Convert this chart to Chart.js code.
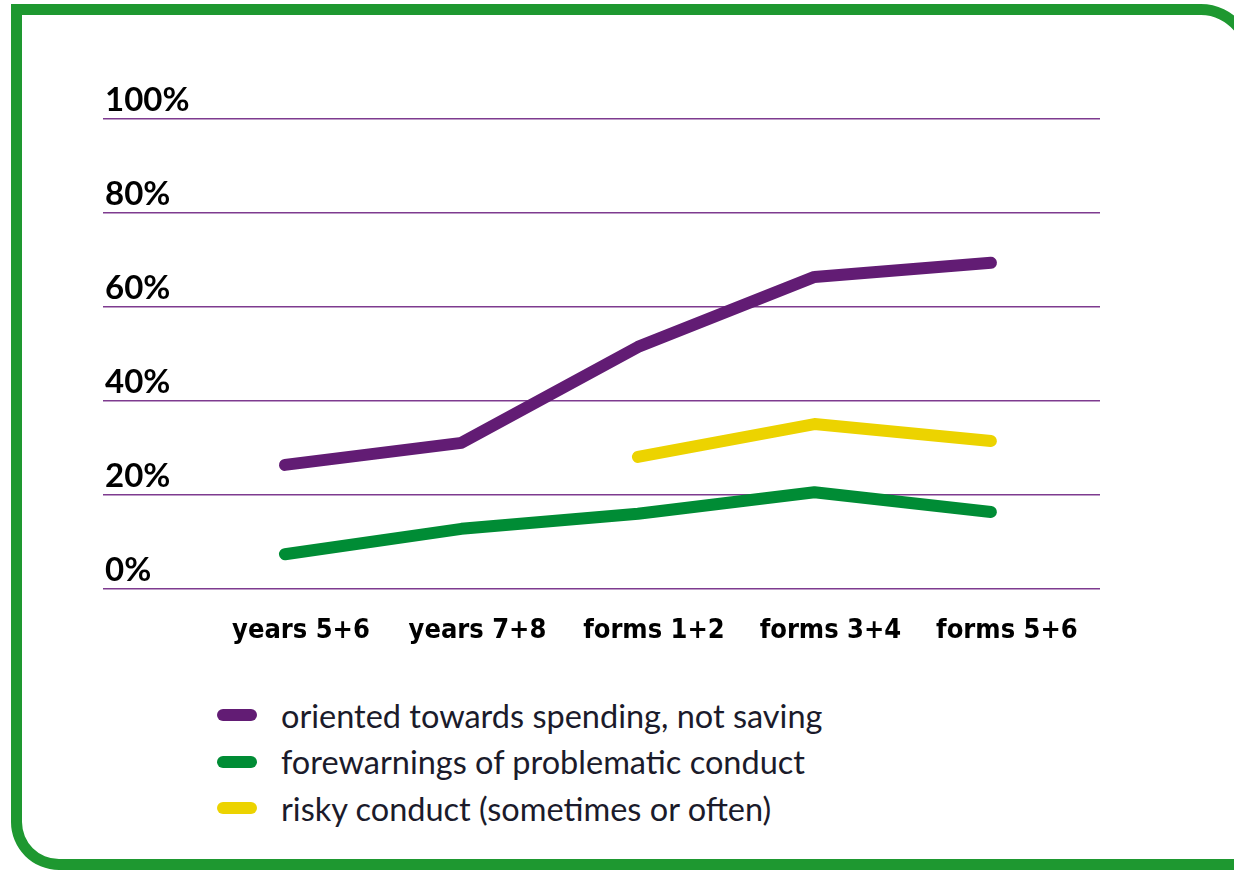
<!DOCTYPE html>
<html>
<head>
<meta charset="utf-8">
<script src="https://cdn.jsdelivr.net/npm/chart.js@4.4.1/dist/chart.umd.min.js"></script>
<style>
  html, body { margin: 0; padding: 0; background: #fff; overflow: hidden; }
  body { width: 1234px; height: 873px; position: relative; }
  .frame {
    position: absolute; left: 11px; top: 4px; width: 1250px; height: 866px;
    box-sizing: border-box; border: 11px solid #1e9830;
    border-top-right-radius: 60px 70px;
    border-bottom-left-radius: 48px;
  }
  #chart { position: absolute; left: 0; top: 0; }
  .legend { position: absolute; left: 217px; top: 692px; font-family: Lato, "Noto Sans", sans-serif; font-size: 32.5px; color: #1b1b2b; }
  .legend-item { display: flex; align-items: center; height: 46.5px; }
  .legend-swatch { width: 40px; height: 12px; border-radius: 6px; margin-right: 24px; }
</style>
</head>
<body>
<div class="frame"></div>
<canvas id="chart" width="1234" height="680"></canvas>
<div class="legend" id="legend"></div>
<script>
// Anteile je Altersgruppe, in Prozent
const categories = ['years 5+6', 'years 7+8', 'forms 1+2', 'forms 3+4', 'forms 5+6'];
const spending = [26.4, 31.1, 51.5, 66.4, 69.4];
const forewarnings = [7.4, 12.8, 16, 20.6, 16.4];
const risky = [null, null, 28.1, 35.1, 31.5];
const yTicks = [0, 20, 40, 60, 80, 100];

const seriesNames = [
  'oriented towards spending, not saving',
  'forewarnings of problematic conduct',
  'risky conduct (sometimes or often)'
];
const seriesColors = ['#621c74', '#008c35', '#ecd300'];

function toPoints(values) {
  return values.map((v, i) => ({ x: i, y: v }));
}

const datasets = [spending, forewarnings, risky].map((values, i) => ({
  label: seriesNames[i],
  data: toPoints(values),
  borderColor: seriesColors[i],
  backgroundColor: seriesColors[i],
  borderWidth: 12,
  borderCapStyle: 'round',
  borderJoinStyle: 'round',
  pointRadius: 0,
  tension: 0,
  spanGaps: false
}));

const ctx = document.getElementById('chart').getContext('2d');
const chart = new Chart(ctx, {
  type: 'line',
  data: { datasets },
  options: {
    responsive: false,
    animation: false,
    layout: { padding: { left: 103, right: 134, top: 119, bottom: 0 } },
    plugins: { legend: { display: false }, tooltip: { enabled: false } },
    scales: {
      x: {
        type: 'linear',
        min: -1.031,
        max: 4.618,
        afterBuildTicks: s => { s.ticks = categories.map((c, i) => ({ value: i })); },
        afterFit: s => { s.height = 91; },
        grid: { display: false },
        border: { display: false },
        ticks: {
          autoSkip: false,
          maxRotation: 0,
          padding: 18,
          labelOffset: 16,
          color: '#000',
          font: { family: '"DejaVu Sans Condensed", "Liberation Sans Narrow", sans-serif', size: 27, weight: 'bold' },
          callback: v => categories[v]
        }
      },
      y: {
        min: 0,
        max: 100,
        afterBuildTicks: s => { s.ticks = yTicks.map(v => ({ value: v })); },
        afterFit: s => { s.width = 0; },
        border: { display: false },
        grid: { color: '#7e3b8f', lineWidth: 1.5, drawTicks: false },
        ticks: {
          mirror: true,
          padding: 2,
          labelOffset: -19,
          color: '#000',
          font: { family: 'Lato, "Noto Sans", sans-serif', size: 33, weight: 'bold' },
          callback: v => v + '%'
        }
      }
    }
  }
});

const legend = document.getElementById('legend');
chart.data.datasets.forEach(ds => {
  const item = document.createElement('div');
  item.className = 'legend-item';
  item.innerHTML = `<span class="legend-swatch" style="background:${ds.borderColor}"></span><span>${ds.label}</span>`;
  legend.appendChild(item);
});
</script>
</body>
</html>
